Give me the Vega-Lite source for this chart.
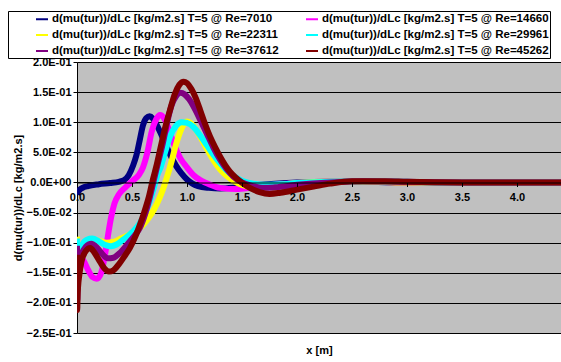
{
  "$schema": "https://vega.github.io/schema/vega-lite/v6.json",
  "autosize": {"type": "none"},
  "width": 484,
  "height": 271,
  "padding": {"left": 77, "top": 62, "right": 0, "bottom": 29},
  "background": "white",
  "config": {
    "view": {"fill": "#C0C0C0", "stroke": null},
    "font": "Liberation Sans"
  },
  "datasets": {
    "s7010": [
      {"x":0,"y":-0.02},{"x":0.02,"y":-0.013},{"x":0.05,"y":-0.009},{"x":0.1,"y":-0.006},{"x":0.2,"y":-0.003},{"x":0.3,"y":-0.001},{"x":0.38,"y":0.001},{"x":0.43,"y":0.004},{"x":0.47,"y":0.012},{"x":0.51,"y":0.028},{"x":0.54,"y":0.045},{"x":0.57,"y":0.07},{"x":0.6,"y":0.095},{"x":0.63,"y":0.107},{"x":0.66,"y":0.11},{"x":0.69,"y":0.106},{"x":0.72,"y":0.097},{"x":0.76,"y":0.082},{"x":0.8,"y":0.065},{"x":0.85,"y":0.045},{"x":0.9,"y":0.028},{"x":0.95,"y":0.015},{"x":1.0,"y":0.005},{"x":1.05,"y":-0.002},{"x":1.1,"y":-0.006},{"x":1.2,"y":-0.009},{"x":1.3,"y":-0.01},{"x":1.45,"y":-0.008},{"x":1.6,"y":-0.005},{"x":1.8,"y":-0.002},{"x":2.0,"y":0},{"x":2.3,"y":0.001},{"x":2.6,"y":0.001},{"x":3.0,"y":0},{"x":3.5,"y":0},{"x":4.4,"y":0}
    ],
    "s14660": [
      {"x":0,"y":-0.135},{"x":0.03,"y":-0.125},{"x":0.06,"y":-0.13},{"x":0.1,"y":-0.145},{"x":0.14,"y":-0.157},{"x":0.18,"y":-0.16},{"x":0.22,"y":-0.15},{"x":0.25,"y":-0.125},{"x":0.28,"y":-0.09},{"x":0.31,"y":-0.058},{"x":0.34,"y":-0.035},{"x":0.38,"y":-0.02},{"x":0.44,"y":-0.008},{"x":0.5,"y":0.002},{"x":0.56,"y":0.012},{"x":0.6,"y":0.025},{"x":0.64,"y":0.05},{"x":0.68,"y":0.085},{"x":0.72,"y":0.105},{"x":0.755,"y":0.112},{"x":0.79,"y":0.107},{"x":0.83,"y":0.09},{"x":0.88,"y":0.064},{"x":0.94,"y":0.04},{"x":1.0,"y":0.025},{"x":1.06,"y":0.012},{"x":1.12,"y":0.004},{"x":1.2,"y":-0.003},{"x":1.3,"y":-0.009},{"x":1.45,"y":-0.011},{"x":1.6,"y":-0.008},{"x":1.8,"y":-0.004},{"x":2.0,"y":-0.001},{"x":2.3,"y":0.001},{"x":2.7,"y":0.001},{"x":3.0,"y":0},{"x":3.5,"y":0},{"x":4.4,"y":0}
    ],
    "s22311": [
      {"x":0,"y":-0.09},{"x":0.005,"y":-0.115},{"x":0.02,"y":-0.112},{"x":0.05,"y":-0.104},{"x":0.1,"y":-0.097},{"x":0.15,"y":-0.095},{"x":0.2,"y":-0.097},{"x":0.27,"y":-0.1},{"x":0.33,"y":-0.099},{"x":0.4,"y":-0.093},{"x":0.5,"y":-0.084},{"x":0.57,"y":-0.076},{"x":0.64,"y":-0.062},{"x":0.7,"y":-0.045},{"x":0.75,"y":-0.026},{"x":0.78,"y":-0.012},{"x":0.82,"y":0.01},{"x":0.86,"y":0.035},{"x":0.9,"y":0.063},{"x":0.94,"y":0.085},{"x":0.98,"y":0.099},{"x":1.0,"y":0.101},{"x":1.03,"y":0.099},{"x":1.07,"y":0.091},{"x":1.12,"y":0.076},{"x":1.18,"y":0.056},{"x":1.24,"y":0.037},{"x":1.3,"y":0.022},{"x":1.36,"y":0.011},{"x":1.42,"y":0.003},{"x":1.5,"y":-0.004},{"x":1.6,"y":-0.008},{"x":1.7,"y":-0.007},{"x":1.85,"y":-0.004},{"x":2.0,"y":-0.001},{"x":2.3,"y":0.001},{"x":2.7,"y":0.001},{"x":3.0,"y":0},{"x":3.5,"y":0},{"x":4.4,"y":0}
    ],
    "s29961": [
      {"x":0,"y":-0.093},{"x":0.005,"y":-0.13},{"x":0.02,"y":-0.118},{"x":0.05,"y":-0.103},{"x":0.09,"y":-0.095},{"x":0.14,"y":-0.093},{"x":0.2,"y":-0.098},{"x":0.26,"y":-0.104},{"x":0.31,"y":-0.106},{"x":0.36,"y":-0.103},{"x":0.42,"y":-0.095},{"x":0.5,"y":-0.083},{"x":0.57,"y":-0.068},{"x":0.62,"y":-0.05},{"x":0.66,"y":-0.032},{"x":0.7,"y":-0.008},{"x":0.73,"y":0.012},{"x":0.76,"y":0.025},{"x":0.8,"y":0.05},{"x":0.85,"y":0.078},{"x":0.9,"y":0.094},{"x":0.95,"y":0.1},{"x":1.0,"y":0.099},{"x":1.06,"y":0.092},{"x":1.12,"y":0.078},{"x":1.18,"y":0.062},{"x":1.24,"y":0.046},{"x":1.3,"y":0.032},{"x":1.36,"y":0.02},{"x":1.42,"y":0.011},{"x":1.5,"y":0.003},{"x":1.6,"y":-0.002},{"x":1.7,"y":-0.004},{"x":1.85,"y":-0.003},{"x":2.0,"y":-0.001},{"x":2.3,"y":0.001},{"x":2.7,"y":0.002},{"x":3.0,"y":0.001},{"x":3.5,"y":0},{"x":4.4,"y":0}
    ],
    "s37612": [
      {"x":0,"y":-0.105},{"x":0.003,"y":-0.195},{"x":0.006,"y":-0.17},{"x":0.015,"y":-0.145},{"x":0.04,"y":-0.12},{"x":0.08,"y":-0.107},{"x":0.13,"y":-0.102},{"x":0.18,"y":-0.108},{"x":0.23,"y":-0.119},{"x":0.28,"y":-0.126},{"x":0.33,"y":-0.125},{"x":0.39,"y":-0.117},{"x":0.47,"y":-0.1},{"x":0.53,"y":-0.087},{"x":0.57,"y":-0.076},{"x":0.62,"y":-0.052},{"x":0.66,"y":-0.026},{"x":0.7,"y":0.005},{"x":0.74,"y":0.035},{"x":0.78,"y":0.065},{"x":0.82,"y":0.1},{"x":0.86,"y":0.128},{"x":0.9,"y":0.143},{"x":0.94,"y":0.149},{"x":0.98,"y":0.146},{"x":1.02,"y":0.138},{"x":1.06,"y":0.126},{"x":1.12,"y":0.104},{"x":1.18,"y":0.081},{"x":1.24,"y":0.058},{"x":1.3,"y":0.038},{"x":1.36,"y":0.022},{"x":1.42,"y":0.01},{"x":1.5,"y":0},{"x":1.6,"y":-0.006},{"x":1.7,"y":-0.009},{"x":1.8,"y":-0.008},{"x":2.0,"y":-0.004},{"x":2.3,"y":0},{"x":2.6,"y":0.002},{"x":3.0,"y":0.001},{"x":3.5,"y":0},{"x":4.4,"y":0}
    ],
    "s45262": [
      {"x":0,"y":-0.12},{"x":0.002,"y":-0.212},{"x":0.005,"y":-0.19},{"x":0.01,"y":-0.173},{"x":0.02,"y":-0.155},{"x":0.04,"y":-0.132},{"x":0.08,"y":-0.114},{"x":0.12,"y":-0.109},{"x":0.16,"y":-0.117},{"x":0.21,"y":-0.132},{"x":0.25,"y":-0.143},{"x":0.29,"y":-0.148},{"x":0.33,"y":-0.146},{"x":0.38,"y":-0.136},{"x":0.43,"y":-0.123},{"x":0.48,"y":-0.109},{"x":0.53,"y":-0.09},{"x":0.57,"y":-0.071},{"x":0.61,"y":-0.05},{"x":0.65,"y":-0.026},{"x":0.69,"y":0.005},{"x":0.72,"y":0.026},{"x":0.76,"y":0.058},{"x":0.8,"y":0.09},{"x":0.845,"y":0.12},{"x":0.89,"y":0.147},{"x":0.93,"y":0.162},{"x":0.97,"y":0.167},{"x":1.0,"y":0.165},{"x":1.04,"y":0.155},{"x":1.08,"y":0.14},{"x":1.12,"y":0.12},{"x":1.16,"y":0.099},{"x":1.21,"y":0.076},{"x":1.26,"y":0.057},{"x":1.3,"y":0.043},{"x":1.35,"y":0.028},{"x":1.39,"y":0.018},{"x":1.45,"y":0.007},{"x":1.51,"y":-0.002},{"x":1.58,"y":-0.01},{"x":1.66,"y":-0.016},{"x":1.75,"y":-0.019},{"x":1.85,"y":-0.017},{"x":2.0,"y":-0.012},{"x":2.15,"y":-0.007},{"x":2.3,"y":-0.002},{"x":2.5,"y":0.002},{"x":2.8,"y":0.002},{"x":3.0,"y":0.001},{"x":3.5,"y":0},{"x":4.4,"y":0}
    ]
  },
  "layer": [
    {"data": {"name": "s7010"}, "transform": [{"calculate": "7010", "as": "re"}], "mark": {"type": "line", "strokeWidth": 6, "interpolate": "monotone", "clip": true}},
    {"data": {"name": "s14660"}, "transform": [{"calculate": "14660", "as": "re"}], "mark": {"type": "line", "strokeWidth": 6, "interpolate": "monotone", "clip": true}},
    {"data": {"name": "s22311"}, "transform": [{"calculate": "22311", "as": "re"}], "mark": {"type": "line", "strokeWidth": 6, "interpolate": "monotone", "clip": true}},
    {"data": {"name": "s29961"}, "transform": [{"calculate": "29961", "as": "re"}], "mark": {"type": "line", "strokeWidth": 6, "interpolate": "monotone", "clip": true}},
    {"data": {"name": "s37612"}, "transform": [{"calculate": "37612", "as": "re"}], "mark": {"type": "line", "strokeWidth": 6, "interpolate": "monotone", "clip": true}},
    {"data": {"name": "s45262"}, "transform": [{"calculate": "45262", "as": "re"}], "mark": {"type": "line", "strokeWidth": 6, "interpolate": "monotone", "clip": true}}
  ],
  "encoding": {
    "x": {"field": "x", "type": "quantitative", "scale": {"domain": [0, 4.4], "nice": false, "zero": false},
      "axis": {"values": [0,0.5,1,1.5,2,2.5,3,3.5,4], "format": ".1f", "offset": -150.5, "grid": false, "domainColor": "black", "tickColor": "black", "tickSize": 4, "labelPadding": 5, "labelFontSize": 11, "labelFontWeight": "bold", "labelColor": "black", "labelFlush": false, "zindex": 1,
        "title": "x [m]", "titleY": 162, "titleFontSize": 11, "titleFontWeight": "bold", "titleColor": "black"}},
    "y": {"field": "y", "type": "quantitative", "scale": {"domain": [-0.25, 0.2], "nice": false, "zero": false},
      "axis": {"values": [-0.25,-0.2,-0.15,-0.1,-0.05,0,0.05,0.1,0.15,0.2], "labelExpr": "replace(replace(format(datum.value, '.1e'), 'e-', 'E-0'), 'e+', 'E+0')", "grid": true, "gridColor": "black", "gridWidth": 1, "gridOpacity": 1, "domainColor": "black", "tickColor": "black", "tickSize": 4, "labelPadding": 2, "labelFontSize": 11, "labelFontWeight": "bold", "labelColor": "black", "labelFlush": false,
        "title": "d(mu(tur))/dLc [kg/m2.s]", "titleFontSize": 11, "titleFontWeight": "bold", "titleColor": "black", "titlePadding": 3}},
    "color": {"field": "re", "type": "nominal",
      "scale": {"domain": [7010, 14660, 22311, 29961, 37612, 45262], "range": ["#000080", "#FF00FF", "#FFFF00", "#00FFFF", "#800080", "#800000"]},
      "legend": {"orient": "none", "legendX": -69, "legendY": -51, "direction": "horizontal", "columns": 2, "title": null,
        "labelExpr": "'d(mu(tur))/dLc [kg/m2.s] T=5 @ Re=' + datum.label + (indexof(['14660','29961','45262'], '' + datum.label) >= 0 ? '             ' : '')",
        "symbolType": "stroke", "symbolStrokeWidth": 2, "symbolSize": 144, "symbolOffset": 26, "labelOffset": 3,
        "labelFont": "Liberation Sans", "labelFontWeight": "bold", "labelFontSize": 11.5, "labelColor": "black", "labelLimit": 400,
        "fillColor": "white", "strokeColor": "black", "padding": 1, "rowPadding": 3, "columnPadding": -1}}
  }
}
